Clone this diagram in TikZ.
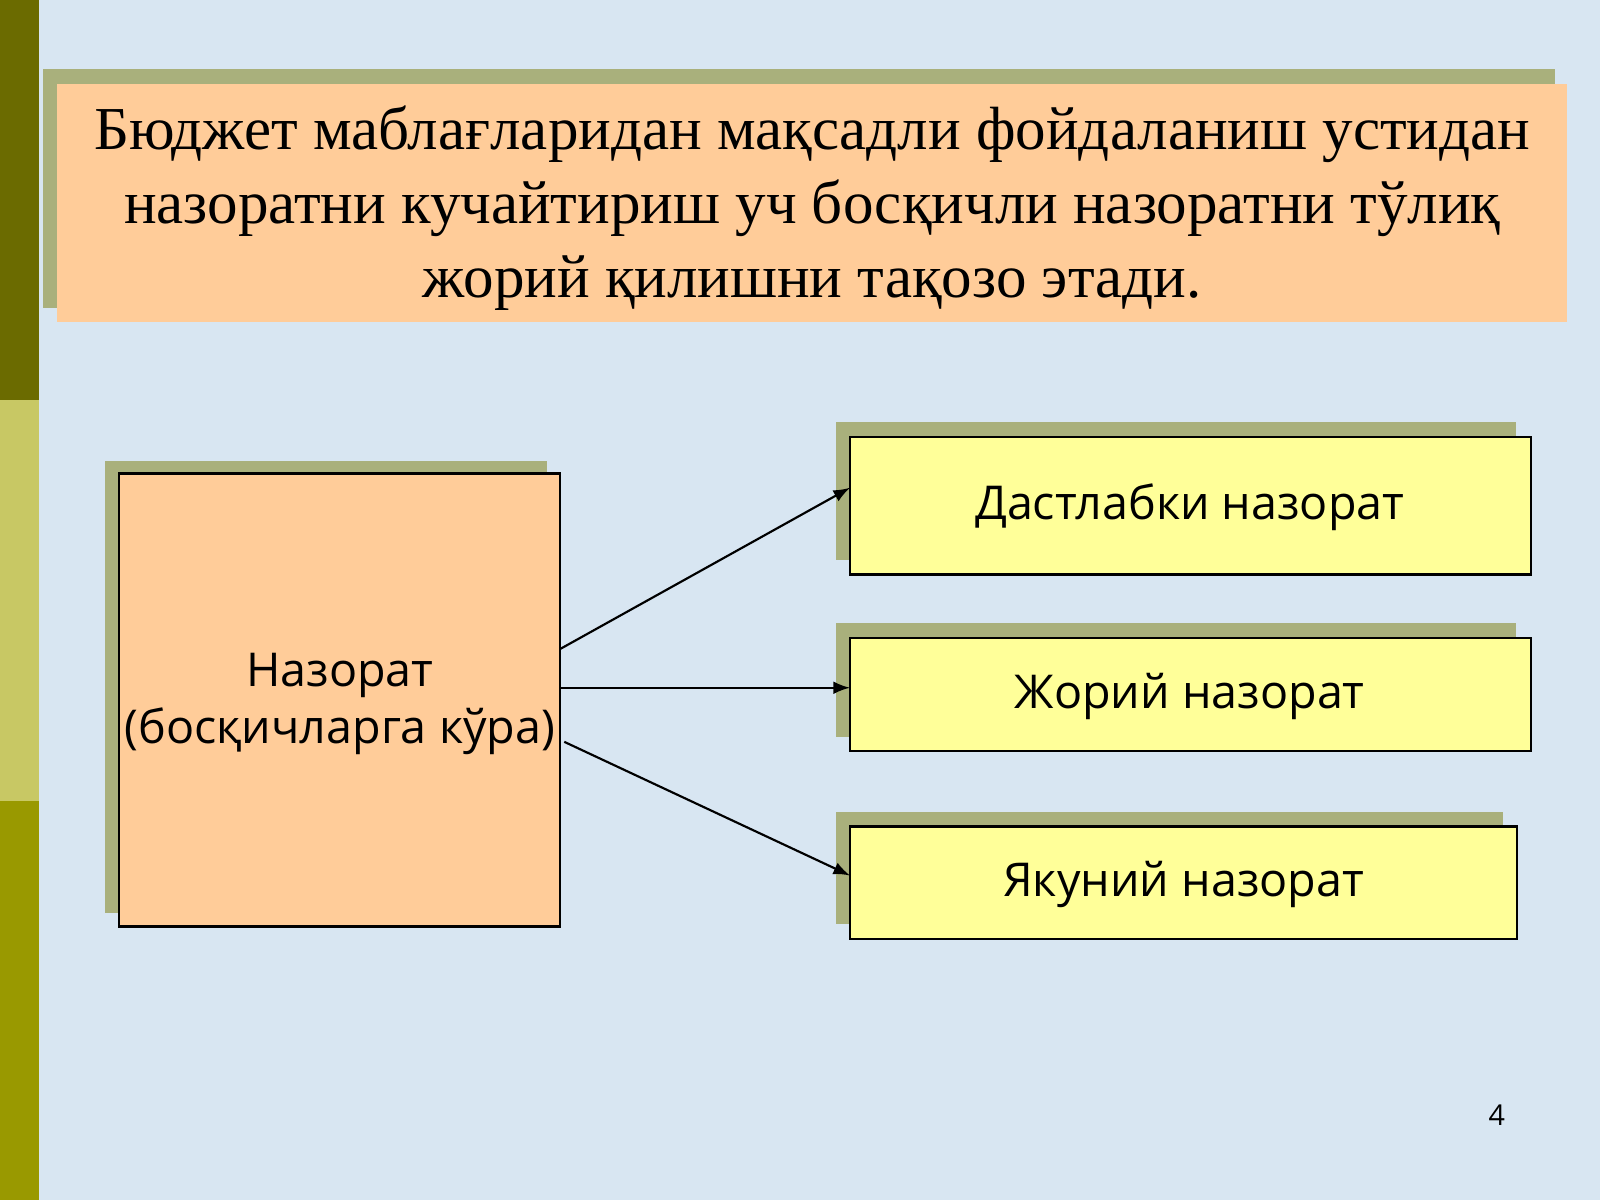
\documentclass[tikz,border=0pt]{standalone}
\usepackage{fontspec}
\setmainfont{Liberation Serif}
\newfontfamily\sans{Open Sans}
\begin{document}
\begin{tikzpicture}[x=0.01cm,y=-0.01cm,
  shadow/.style={fill=shd,draw=none},
  peach/.style={fill=peachc,draw=black,line width=0.6pt},
  yel/.style={fill=yelc,draw=black,line width=0.6pt},
  lbl/.style={font=\sans\fontsize{13pt}{16pt}\selectfont,align=center},
  arr/.style={-latex,line width=0.6pt}]
\definecolor{bg}{HTML}{D8E6F2}
\definecolor{shd}{HTML}{A9B07C}
\definecolor{peachc}{HTML}{FFCC99}
\definecolor{yelc}{HTML}{FFFF99}
\definecolor{bar1}{HTML}{6B6B00}
\definecolor{bar2}{HTML}{C8C864}
\definecolor{bar3}{HTML}{999900}
\useasboundingbox (0,0) rectangle (1568,1176);
\fill[bg] (0,0) rectangle (1568,1176);
\fill[bar1] (0,0) rectangle (38,392);
\fill[bar2] (0,392) rectangle (38,785);
\fill[bar3] (0,785) rectangle (38,1176);
% title
\fill[shadow] (42,68) rectangle (1524,302);
\fill[peachc] (56,82) rectangle (1536,316);
\node[align=center,font=\fontsize{17pt}{20.5pt}\selectfont] (title) at (796,204)
 {Бюджет маблағларидан мақсадли фойдаланиш устидан\\назоратни кучайтириш уч босқичли назоратни тўлиқ\\жорий қилишни тақозо этади.};
% left
\fill[shadow] (103,452) rectangle (536,895);
\draw[peach] (117,464) rectangle (549,908);
\node[lbl] (Lt) at (333,690) {Назорат\\(босқичларга кўра)};
% right
\fill[shadow] (819,414) rectangle (1486,549);
\fill[shadow] (819,611) rectangle (1486,722);
\fill[shadow] (819,796) rectangle (1473,906);
\draw[yel] (833,428) rectangle (1500,563);
\draw[yel] (833,625) rectangle (1500,736);
\draw[yel] (833,810) rectangle (1487,920);
\node[lbl] (A) at (1166,497) {Дастлабки назорат};
\node[lbl] (B) at (1166,683) {Жорий назорат};
\node[lbl] (C) at (1160,867) {Якуний назорат};
\coordinate (a1) at (549,636); \coordinate (a2) at (833,478);
\coordinate (b1) at (549,674); \coordinate (b2) at (833,674);
\coordinate (c1) at (553,727); \coordinate (c2) at (833,858);
\draw[arr] (a1) -- (a2);
\draw[arr] (b1) -- (b2);
\draw[arr] (c1) -- (c2);
\node[font=\sans\fontsize{8pt}{10pt}\selectfont] (pg) at (1467,1093) {4};
\end{tikzpicture}
\end{document}
